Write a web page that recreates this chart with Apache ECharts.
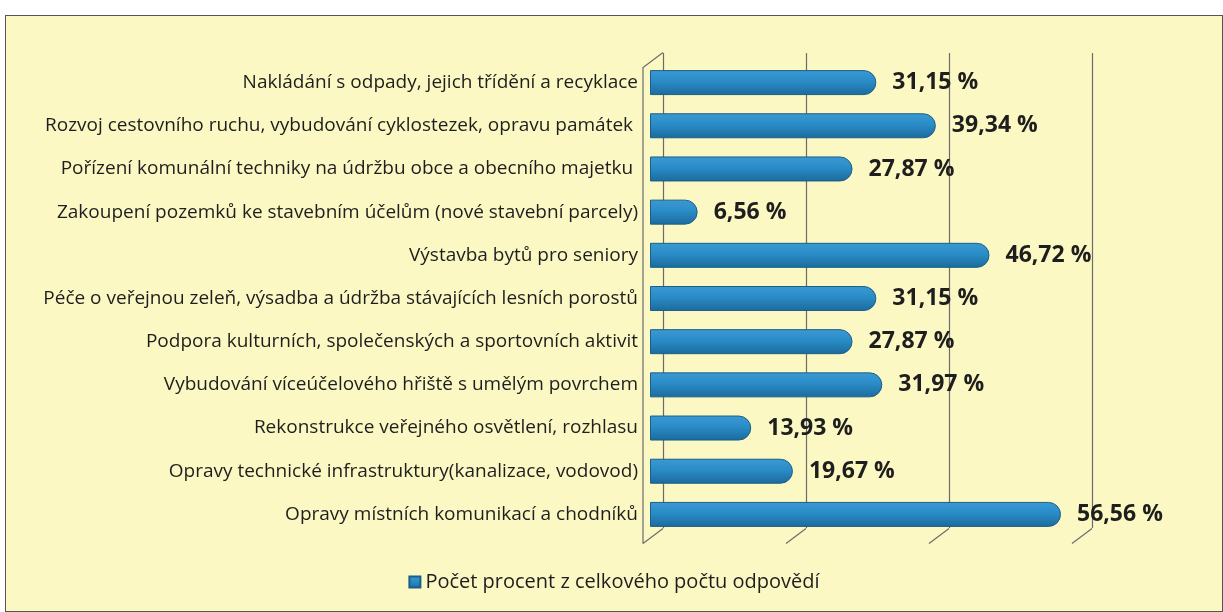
<!DOCTYPE html>
<html>
<head>
<meta charset="utf-8">
<script src="https://cdn.jsdelivr.net/npm/echarts@6/dist/echarts.min.js"></script>
<style>
  body { margin: 0; background: #fff; }
  #main {
    position: absolute; left: 5px; top: 15px;
    width: 1216px; height: 595px;
    border: 1px solid #555;
    background: #fcf8c4;
  }
</style>
</head>
<body>
<div id="main"></div>
<script>
  //kategorie (odspodu nahoru)
  var categories = [
    'Opravy místních komunikací a chodníků',
    'Opravy technické infrastruktury(kanalizace, vodovod)',
    'Rekonstrukce veřejného osvětlení, rozhlasu',
    'Vybudování víceúčelového hřiště s umělým povrchem',
    'Podpora kulturních, společenských a sportovních aktivit',
    'Péče o veřejnou zeleň, výsadba a údržba stávajících lesních porostů',
    'Výstavba bytů pro seniory',
    'Zakoupení pozemků ke stavebním účelům (nové stavební parcely)',
    'Pořízení komunální techniky na údržbu obce a obecního majetku ',
    'Rozvoj cestovního ruchu, vybudování cyklostezek, opravu památek ',
    'Nakládání s odpady, jejich třídění a recyklace'
  ]
  //procenta
  var percents = [56.56, 19.67, 13.93, 31.97, 27.87, 31.15, 46.72, 6.56, 27.87, 39.34, 31.15]
  //osa x (skrytá) 0 - 60 po 20
  var axisMin = 0
  var axisMax = 60
  var axisStep = 20
  var seriesName = 'Počet procent z celkového počtu odpovědí'

  var chart = echarts.init(document.getElementById('main'))

  var option = {
    animation: false,
    grid: [
      //přední rovina - sloupce
      { left: 644, right: 136, top: 45, bottom: 75 },
      //zadní stěna - mřížka
      { left: 657, right: 130, top: 37, bottom: 83 }
    ],
    xAxis: [
      {
        gridIndex: 0, type: 'value', min: axisMin, max: axisMax, interval: axisStep,
        axisLabel: { show: false }, axisLine: { show: false },
        axisTick: { show: false }, splitLine: { show: false }
      },
      {
        gridIndex: 1, type: 'value', min: axisMin, max: axisMax, interval: axisStep,
        axisLabel: { show: false }, axisLine: { show: false },
        axisTick: { show: false },
        splitLine: { lineStyle: { color: '#6b6b6b', width: 1.2 } }
      }
    ],
    yAxis: [
      {
        gridIndex: 0,
        type: 'category',
        data: categories,
        axisLine: { show: false },
        axisTick: { show: false },
        axisLabel: {
          margin: 12,
          fontFamily: 'Open Sans',
          fontSize: 19,
          color: '#1e1e1e'
        }
      },
      {
        gridIndex: 1,
        type: 'category',
        data: categories,
        axisLine: { show: false },
        axisTick: { show: false },
        axisLabel: { show: false }
      }
    ],
    legend: {
      top: 551,
      left: 'center',
      icon: 'rect',
      itemWidth: 11,
      itemHeight: 11,
      itemGap: 6,
      textStyle: { fontFamily: 'Open Sans', fontSize: 20, color: '#1e1e1e' },
      data: [seriesName]
    },
    series: [
      {
        name: seriesName,
        type: 'bar',
        xAxisIndex: 0,
        yAxisIndex: 0,
        data: percents,
        barWidth: 25,
        itemStyle: {
          color: new echarts.graphic.LinearGradient(0, 0, 0, 1, [
            { offset: 0, color: '#3a9ad3' },
            { offset: 0.45, color: '#2a8cc7' },
            { offset: 1, color: '#1b6a9c' }
          ]),
          borderRadius: [0, 12, 12, 0],
          borderColor: '#1c5e87',
          borderWidth: 1
        },
        label: {
          show: true,
          position: 'right',
          distance: 16,
          fontFamily: 'Open Sans',
          fontWeight: 'bold',
          fontSize: 23,
          color: '#1e1e1e',
          formatter: function(p){
            return p.value.toFixed(2).replace('.', ',') + ' %'
          }
        }
      }
    ]
  }
  chart.setOption(option)

  //3D stěna - šikmé čáry u paty mřížky a přední hrana
  var wallStyle = { stroke: '#6b6b6b', lineWidth: 1.2 }
  var backTop = chart.convertToPixel({ yAxisIndex: 1 }, categories[categories.length - 1]) - 22
  var backBottom = chart.convertToPixel({ yAxisIndex: 1 }, categories[0]) + 22
  var dx = -20
  var dy = 15
  var shapes = []
  for (var v = axisMin; v <= axisMax; v += axisStep) {
    var x = chart.convertToPixel({ xAxisIndex: 1 }, v)
    shapes.push({
      type: 'line', silent: true,
      shape: { x1: x, y1: backBottom, x2: x + dx, y2: backBottom + dy },
      style: wallStyle
    })
  }
  var x0 = chart.convertToPixel({ xAxisIndex: 1 }, axisMin)
  shapes.push({
    type: 'polyline', silent: true,
    shape: { points: [[x0, backTop], [x0 + dx, backTop + dy], [x0 + dx, backBottom + dy]] },
    style: { stroke: '#6b6b6b', lineWidth: 1.2, fill: null }
  })
  chart.setOption({ graphic: shapes })
</script>
</body>
</html>
